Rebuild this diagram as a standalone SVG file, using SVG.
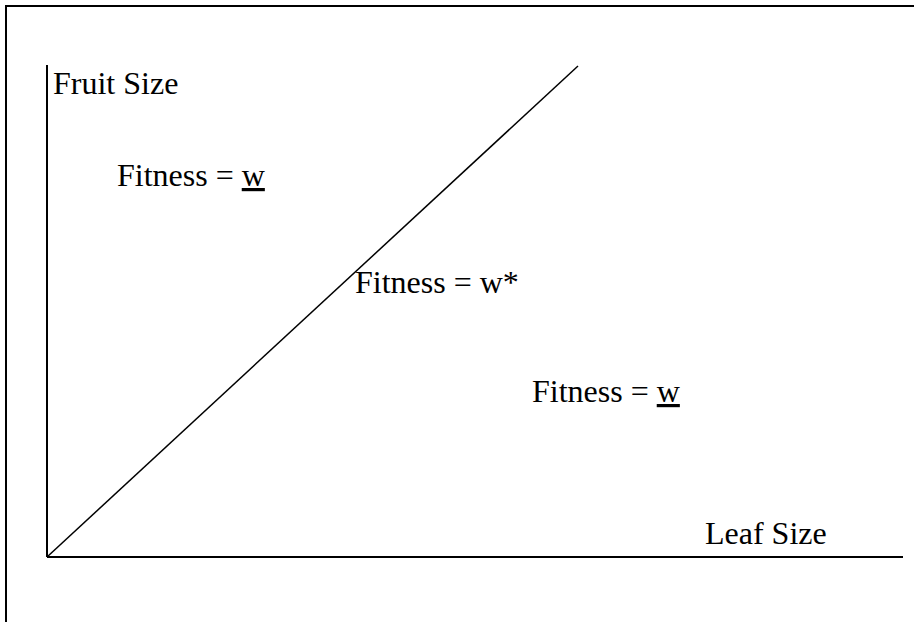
<svg xmlns="http://www.w3.org/2000/svg" width="914" height="622" viewBox="0 0 914 622">
<style>
text{font-family:"Liberation Serif","Times New Roman",serif;font-size:32px;fill:#000}
.ln{stroke:#000;fill:none}
</style>
<rect width="914" height="622" fill="#fff"/>
<rect x="6" y="6" width="1000" height="1000" class="ln" stroke-width="2"/>
<g id="connectors">
<line x1="47" y1="65" x2="47" y2="557" class="ln" stroke-width="2"/>
<line x1="47" y1="557" x2="903" y2="557" class="ln" stroke-width="2"/>
<line x1="47" y1="557" x2="578" y2="66" class="ln" stroke-width="1.5"/>
</g>
<g id="fruit-size"><text x="53" y="94">Fruit Size</text></g>
<g id="fitness-1"><text x="117" y="186">Fitness = <tspan text-decoration="underline">w</tspan></text></g>
<g id="fitness-star"><text x="355" y="293">Fitness = w*</text></g>
<g id="fitness-2"><text x="532" y="402">Fitness = <tspan text-decoration="underline">w</tspan></text></g>
<g id="leaf-size"><text x="705" y="544">Leaf Size</text></g>
</svg>
